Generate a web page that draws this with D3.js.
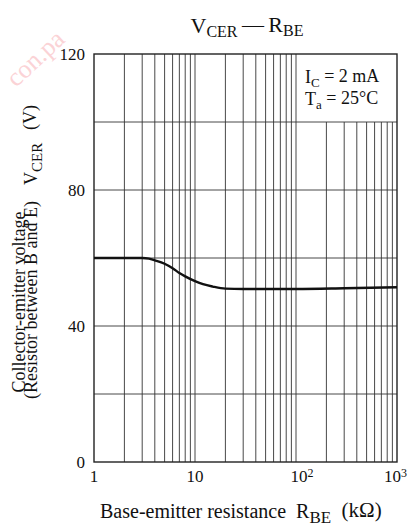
<!DOCTYPE html>
<html lang="en">
<head>
	<meta charset="UTF-8">
	<title>VCER - RBE</title>
	<script src="https://d3js.org/d3.v7.min.js"></script>
	<style>
		body { margin: 0; background: #fff; }
		text { font-family: "Liberation Serif", "DejaVu Serif", serif; fill: #111; }
	</style>
</head>
<body>

	<svg width="420" height="527"></svg>

	<script>

		// values
		var rbe  = [1, 3, 3.5, 4, 5, 6, 7, 8, 10, 12, 15, 20, 30, 100, 300, 1000];   // kOhm
		var vcer = [60, 60, 59.8, 59.3, 58.3, 57.0, 55.6, 54.6, 53.2, 52.3, 51.6, 51.0, 50.9, 50.9, 51.1, 51.4]; // V

		var yTicks = [0, 40, 80, 120];
		var yGrid = [20, 40, 60, 80, 100];
		var xTickVals = [1, 10, 100, 1000];
		var xTickBase = ["1", "10", "10", "10"];
		var xTickExp = ["", "", "2", "3"];

		var margin = {top: 54, right: 23, bottom: 65, left: 94};
		var width = 420 - margin.left - margin.right;
		var height = 527 - margin.top - margin.bottom;

		var root = d3.select("svg");

		// faint watermark in the corner
		root.append("text")
			.attr("transform", "translate(16,88) rotate(-43)")
			.style("font-size", "26px")
			.style("fill", "#fbd3d6")
			.text("con.pa");

		var svg = root.append("g")
			.attr("transform", "translate(" + margin.left + "," + margin.top + ")");

		var x = d3.scaleLog().domain([1, 1000]).range([0, width]);
		var y = d3.scaleLinear().domain([0, 120]).range([height, 0]);

		// minor + major vertical grid (1..9 in each decade)
		var xGrid = [];
		[1, 10, 100].forEach(function(dec) {
			for (var k = 1; k <= 9; k++) {
				var v = dec * k;
				if (v > 1) xGrid.push(v);
			}
		});

		// the legend box covers the grid between 10^2 and 10^3 above 100 V
		svg.selectAll(".vgrid")
			.data(xGrid)
			.enter()
			.append("line")
			.attr("class", "vgrid")
			.attr("x1", function(d) { return x(d); })
			.attr("x2", function(d) { return x(d); })
			.attr("y1", function(d) { return d > 100 ? y(100) : 0; })
			.attr("y2", height)
			.attr("stroke", "#333")
			.attr("stroke-width", 0.9);

		svg.selectAll(".hgrid")
			.data(yGrid)
			.enter()
			.append("line")
			.attr("class", "hgrid")
			.attr("x1", 0)
			.attr("x2", width)
			.attr("y1", function(d) { return y(d); })
			.attr("y2", function(d) { return y(d); })
			.attr("stroke", "#333")
			.attr("stroke-width", 0.9);

		// frame
		svg.append("rect")
			.attr("width", width)
			.attr("height", height)
			.attr("fill", "none")
			.attr("stroke", "#222")
			.attr("stroke-width", 1.4);

		// curve
		var line = d3.line()
			.x(function(d, i) { return x(rbe[i]); })
			.y(function(d) { return y(d); })
			.curve(d3.curveMonotoneX);

		svg.append("path")
			.datum(vcer)
			.attr("fill", "none")
			.attr("stroke", "#111")
			.attr("stroke-width", 2.4)
			.attr("d", line);

		// y tick labels
		svg.selectAll(".ylab")
			.data(yTicks)
			.enter()
			.append("text")
			.attr("class", "ylab")
			.attr("x", -9)
			.attr("y", function(d) { return y(d); })
			.attr("dy", "0.38em")
			.attr("text-anchor", "end")
			.style("font-size", "17px")
			.text(function(d) { return d; });

		// x tick labels (with superscripts)
		var xl = svg.selectAll(".xlab")
			.data(xTickVals)
			.enter()
			.append("text")
			.attr("class", "xlab")
			.attr("x", function(d, i) { return i == 3 ? x(d) + 10 : x(d) + (xTickExp[i] ? 6 : 0); })
			.attr("y", height + 20)
			.attr("text-anchor", function(d, i) { return i == 3 ? "end" : "middle"; })
			.style("font-size", "17px");

		xl.append("tspan").text(function(d, i) { return xTickBase[i]; });
		xl.append("tspan")
			.attr("dy", "-0.4em")
			.style("font-size", "12px")
			.text(function(d, i) { return xTickExp[i]; });

		// title
		var title = root.append("text")
			.attr("x", 247)
			.attr("y", 33)
			.attr("text-anchor", "middle")
			.style("font-size", "22px");
		title.append("tspan").text("V");
		title.append("tspan").attr("dy", "0.25em").style("font-size", "16px").text("CER");
		title.append("tspan").attr("dy", "-0.25em").text("\u2009\u2014\u2009R");
		title.append("tspan").attr("dy", "0.25em").style("font-size", "16px").text("BE");

		// conditions
		var c1 = svg.append("text")
			.attr("x", x(100) + 9)
			.attr("y", 29)
			.style("font-size", "18px");
		c1.append("tspan").text("I");
		c1.append("tspan").attr("dy", "0.3em").style("font-size", "13px").text("C");
		c1.append("tspan").attr("dy", "-0.3em").text(" = 2 mA");

		var c2 = svg.append("text")
			.attr("x", x(100) + 9)
			.attr("y", 51)
			.style("font-size", "18px");
		c2.append("tspan").text("T");
		c2.append("tspan").attr("dy", "0.3em").style("font-size", "13px").text("a");
		c2.append("tspan").attr("dy", "-0.3em").text(" = 25\u00b0C");

		// x axis title
		var xt = root.append("text")
			.attr("x", 100)
			.attr("y", 518)
			.style("font-size", "20px");
		xt.append("tspan").text("Base-emitter resistance\u2002R");
		xt.append("tspan").attr("dy", "0.3em").style("font-size", "17px").text("BE");
		xt.append("tspan").attr("dy", "-0.3em").style("font-size", "21px").text("\u2002(k\u03a9)");

		// y axis titles (rotated)
		root.append("text")
			.attr("transform", "translate(25,302) rotate(-90)")
			.attr("text-anchor", "middle")
			.style("font-size", "18px")
			.text("Collector-emitter voltage");

		root.append("text")
			.attr("transform", "translate(37,300) rotate(-90)")
			.attr("text-anchor", "middle")
			.style("font-size", "18px")
			.text("(Resistor between B and E)");

		var yt = root.append("text")
			.attr("transform", "translate(37,145) rotate(-90)")
			.attr("text-anchor", "middle")
			.style("font-size", "18px");
		yt.append("tspan").text("V");
		yt.append("tspan").attr("dy", "0.3em").style("font-size", "15px").text("CER");
		yt.append("tspan").attr("dy", "-0.3em").text("\u2002\u2009(V)");

	</script>

</body>
</html>
